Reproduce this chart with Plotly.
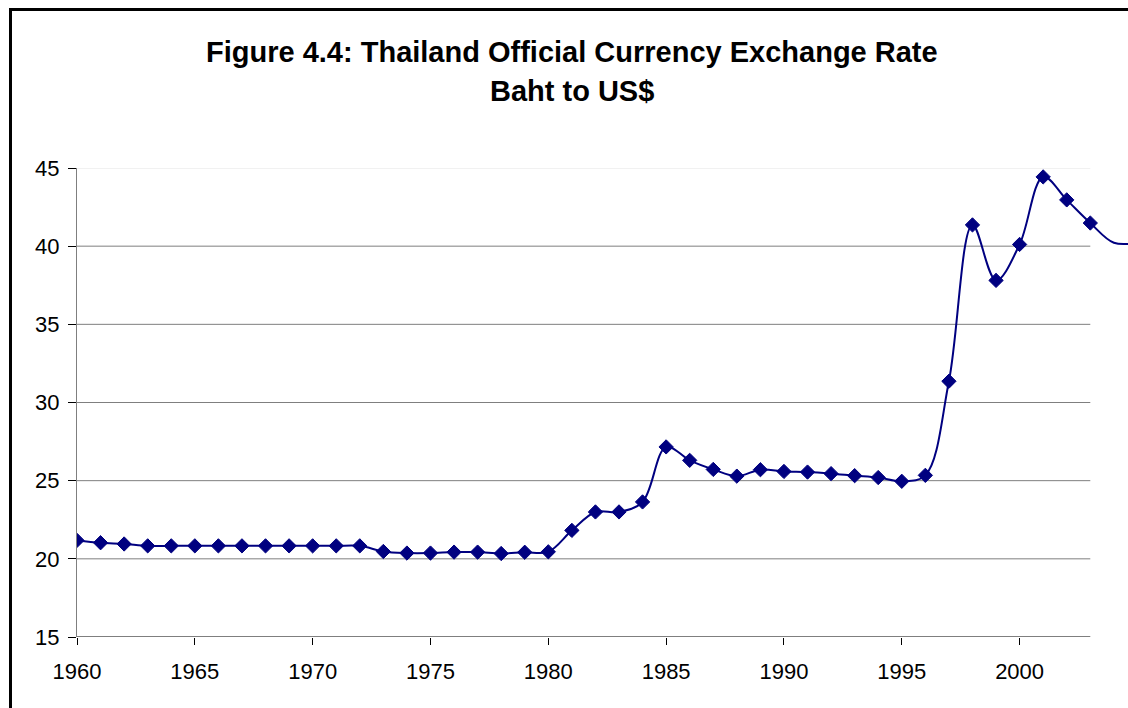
import plotly.graph_objects as go

# Official exchange rate, Baht per US$
years = list(range(1960, 2006))
baht_per_usd = [
    21.18, 21.03, 20.95, 20.83, 20.83, 20.83, 20.83, 20.83, 20.83, 20.83,
    20.83, 20.83, 20.83, 20.47, 20.37, 20.37, 20.43, 20.43, 20.34, 20.42,
    20.45, 21.82, 23.00, 23.00, 23.64, 27.16, 26.30, 25.72, 25.29, 25.70,
    25.59, 25.55, 25.45, 25.32, 25.20, 24.96, 25.34, 31.36, 41.36, 37.81,
    40.11, 44.43, 42.96, 41.48, 40.22, 40.22,
]
last_marked_year = 2003

x_ticks = [1960, 1965, 1970, 1975, 1980, 1985, 1990, 1995, 2000]
y_ticks = [15, 20, 25, 30, 35, 40, 45]

W, H = 1128, 708
ML, MR, MT, MB = 77, 0, 168, 71
X_MIN, X_MAX = 1960, 2004.6
Y_MIN, Y_MAX = 15, 45
AXIS_END = 2003

NAVY = "#000080"
FONT = "Arial, Liberation Sans, sans-serif"

fig = go.Figure()

# smoothed line through every year
fig.add_trace(go.Scatter(
    x=years, y=baht_per_usd, mode="lines",
    line=dict(color=NAVY, width=2, shape="spline", smoothing=1.0),
    hoverinfo="skip", showlegend=False,
))

# diamond markers for the years on the axis
mk_years = [y for y in years if y <= last_marked_year]
mk_vals = baht_per_usd[:len(mk_years)]
fig.add_trace(go.Scatter(
    x=mk_years, y=mk_vals, mode="markers",
    marker=dict(symbol="diamond", size=11, color=NAVY,
                line=dict(color=NAVY, width=1)),
    showlegend=False,
))

shapes = []
# horizontal gridlines, ending at the axis end
for v in y_ticks[1:]:
    shapes.append(dict(
        type="line", xref="x", yref="y", x0=X_MIN, x1=AXIS_END, y0=v, y1=v,
        line=dict(color="#e3e3e3" if v == Y_MAX else "#7f7f7f", width=1),
        layer="below",
    ))
# category axis line
shapes.append(dict(
    type="line", xref="x", yref="y", x0=X_MIN, x1=AXIS_END, y0=Y_MIN, y1=Y_MIN,
    line=dict(color="#000000", width=1.2), layer="above",
))

# chart frame (left and top edges fall inside the page)
pw = W - ML - MR
ph = H - MT - MB
fx0 = (10.5 - ML) / pw
fy1 = (H - MB - 9.5) / ph
shapes.append(dict(
    type="rect", xref="paper", yref="paper",
    x0=fx0, x1=1.2, y0=-0.5, y1=fy1,
    line=dict(color="#000000", width=3), fillcolor="rgba(0,0,0,0)",
    layer="above",
))

title_x = (572 - ML) / pw
annotations = [
    dict(text="<b>Figure 4.4: Thailand Official Currency Exchange Rate</b>",
         xref="paper", yref="paper", x=title_x, y=(H - MB - 52) / ph,
         xanchor="center", yanchor="middle", showarrow=False,
         font=dict(family=FONT, size=29, color="#000000")),
    dict(text="<b>Baht to US$</b>",
         xref="paper", yref="paper", x=title_x, y=(H - MB - 91) / ph,
         xanchor="center", yanchor="middle", showarrow=False,
         font=dict(family=FONT, size=29, color="#000000")),
]

fig.update_layout(
    width=W, height=H,
    margin=dict(l=ML, r=MR, t=MT, b=MB, pad=0),
    paper_bgcolor="#ffffff", plot_bgcolor="#ffffff",
    font=dict(family=FONT, color="#000000"),
    shapes=shapes, annotations=annotations,
    showlegend=False,
)

fig.update_xaxes(
    range=[X_MIN, X_MAX], tickmode="array", tickvals=x_ticks,
    ticktext=[str(t) for t in x_ticks],
    showgrid=False, zeroline=False, showline=False,
    ticks="outside", ticklen=7, tickwidth=1, tickcolor="#000000",
    tickfont=dict(family=FONT, size=22, color="#000000"),
    ticklabelstandoff=8,
)
fig.update_yaxes(
    range=[Y_MIN, Y_MAX], tickmode="array", tickvals=y_ticks,
    ticktext=[str(t) for t in y_ticks],
    showgrid=False, zeroline=False,
    showline=True, linecolor="#7f7f7f", linewidth=1,
    ticks="outside", ticklen=8, tickwidth=1, tickcolor="#000000",
    tickfont=dict(family=FONT, size=22, color="#000000"),
    ticklabelstandoff=4,
)

fig.write_html("out.html")
